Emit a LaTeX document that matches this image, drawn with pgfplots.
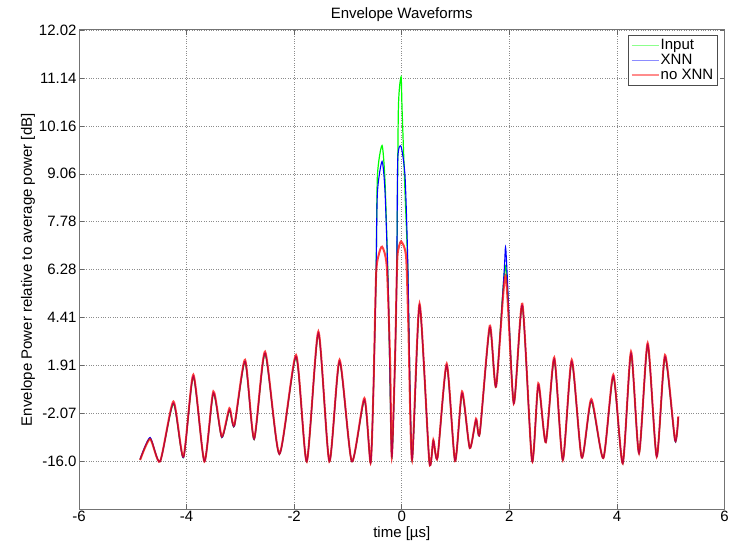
\documentclass[border=0pt]{standalone}
\usepackage{fontspec}
\setmainfont{Liberation Sans}
\usepackage{pgfplots}
\pgfplotsset{compat=1.18}

% envelope traces, y in tick-slot units (tick k = k-th dB label)
\pgfplotstableread{
t p
-4.864 1.03
-4.679 1.47
-4.493 1.00
-4.245 2.25
-4.059 1.10
-3.874 2.81
-3.669 1.00
-3.502 2.46
-3.346 1.52
-3.204 2.11
-3.112 1.76
-2.913 3.12
-2.745 1.48
-2.541 3.29
-2.275 1.16
-1.965 3.22
-1.766 1.00
-1.550 3.71
-1.346 1.00
-1.156 3.12
-0.929 1.00
-0.695 2.32
-0.580 0.97
-0.528 2.43
-0.478 4.86
-0.435 5.28
-0.366 5.48
-0.279 5.07
-0.217 3.12
-0.186 1.10
-0.125 3.12
-0.093 4.86
-0.075 5.35
-0.013 5.59
0.080 5.28
0.123 3.81
0.191 1.03
0.331 4.29
0.513 0.99
0.587 1.45
0.665 1.08
0.836 3.04
0.991 1.01
1.121 2.46
1.264 1.28
1.381 1.89
1.450 1.59
1.636 3.83
1.753 2.56
1.929 4.87
2.082 2.21
2.242 4.29
2.422 1.01
2.539 2.63
2.678 1.40
2.835 3.17
2.994 1.03
3.160 3.12
3.346 1.08
3.524 2.30
3.747 1.07
3.933 2.81
4.108 0.96
4.262 3.29
4.411 1.17
4.572 3.47
4.740 1.10
4.894 3.22
5.080 1.45
5.141 1.94
}\noxnndata

\pgfplotstableread{
t p
-4.864 1.05
-4.679 1.50
-4.493 1.00
-4.245 2.22
-4.059 1.08
-3.874 2.78
-3.669 1.00
-3.502 2.43
-3.346 1.50
-3.204 2.08
-3.112 1.74
-2.913 3.09
-2.745 1.46
-2.541 3.26
-2.275 1.15
-1.965 3.19
-1.766 1.00
-1.550 3.68
-1.346 1.00
-1.156 3.09
-0.929 1.00
-0.695 2.29
-0.580 0.97
-0.528 2.43
-0.478 4.86
-0.453 6.60
-0.366 7.26
-0.310 6.60
-0.249 4.51
-0.186 1.10
-0.125 3.12
-0.093 4.86
-0.075 7.29
-0.013 7.57
0.061 6.95
0.111 5.20
0.191 1.03
0.331 4.26
0.513 0.99
0.587 1.43
0.665 1.08
0.836 3.01
0.991 1.01
1.121 2.43
1.264 1.28
1.381 1.87
1.450 1.58
1.636 3.80
1.753 2.56
1.900 4.90
1.929 5.47
1.960 4.90
2.082 2.21
2.242 4.26
2.422 1.01
2.539 2.60
2.678 1.40
2.835 3.14
2.994 1.03
3.160 3.09
3.346 1.08
3.524 2.27
3.747 1.07
3.933 2.78
4.108 0.96
4.262 3.26
4.411 1.17
4.572 3.44
4.740 1.10
4.894 3.19
5.080 1.43
5.141 1.92
}\xnndata

\pgfplotstableread{
t p
-4.864 1.04
-4.679 1.48
-4.493 1.00
-4.245 2.20
-4.059 1.08
-3.874 2.76
-3.669 1.00
-3.502 2.41
-3.346 1.50
-3.204 2.06
-3.112 1.74
-2.913 3.07
-2.745 1.46
-2.541 3.24
-2.275 1.15
-1.965 3.17
-1.766 1.00
-1.550 3.66
-1.346 1.00
-1.156 3.07
-0.929 1.00
-0.695 2.27
-0.580 0.97
-0.528 2.43
-0.478 4.86
-0.453 6.95
-0.366 7.59
-0.310 6.81
-0.249 4.51
-0.186 1.10
-0.125 3.12
-0.093 4.86
-0.063 8.34
-0.013 9.02
0.006 8.34
0.061 6.60
0.111 5.07
0.191 1.03
0.331 4.24
0.513 0.99
0.587 1.43
0.665 1.08
0.836 3.00
0.991 1.01
1.121 2.41
1.264 1.28
1.381 1.86
1.450 1.58
1.636 3.78
1.753 2.56
1.929 5.07
2.082 2.21
2.242 4.24
2.422 1.01
2.539 2.58
2.678 1.40
2.835 3.12
2.994 1.03
3.160 3.07
3.346 1.08
3.524 2.25
3.747 1.07
3.933 2.76
4.108 0.96
4.262 3.24
4.411 1.17
4.572 3.42
4.740 1.10
4.894 3.17
5.080 1.43
5.141 1.92
}\inputdata

\begin{document}
\begin{tikzpicture}[font=\fontsize{15}{17}\selectfont]
  \useasboundingbox (0,0) rectangle (733pt,549pt);
  \begin{axis}[
      at={(79pt,39.6pt)}, anchor=south west,
      scale only axis,
      width=645.5pt, height=479.4pt,
      xmin=-6, xmax=6,
      ymin=0, ymax=10,
      xtick={-6,-4,...,6},
      ytick={1,...,10},
      yticklabels={-16.0,-2.07,1.91,4.41,6.28,7.78,9.06,10.16,11.14,12.02},
      /pgf/number format/assume math mode=true,
      tick align=inside,
      major tick length=5pt,
      tick style={black!60, line width=0.6pt},
      axis line style={black!55, line width=1pt},
      grid=major,
      major grid style={dotted, black!45, line width=0.6pt},
      xticklabel style={yshift=1.5pt},
      yticklabel style={xshift=1pt},
      title={Envelope Waveforms},
      title style={yshift=-1pt},
      xlabel={time [µs]},
      xlabel style={yshift=2pt},
      ylabel={Envelope Power relative to average power [dB]},
      ylabel style={yshift=-3pt},
      legend style={at={(0.99,0.99)}, anchor=north east, draw=black!70,
        line width=0.6pt, cells={anchor=west}, inner sep=3pt,
        nodes={inner sep=1.5pt}},
      legend cell align=left,
      legend image code/.code={\draw[#1, line width=1.4pt, opacity=0.45] (0cm,0cm) -- (0.95cm,0cm);},
    ]
    \addplot[green, line width=1.2pt, smooth, tension=0.4] table[x=t,y=p] {\inputdata};
    \addlegendentry{Input}
    \addplot[blue, line width=1.1pt, smooth, tension=0.4] table[x=t,y=p] {\xnndata};
    \addlegendentry{XNN}
    \addplot[red, line width=2pt, opacity=0.75, smooth, tension=0.4] table[x=t,y=p] {\noxnndata};
    \addlegendentry{no XNN}
  \end{axis}
\end{tikzpicture}
\end{document}
